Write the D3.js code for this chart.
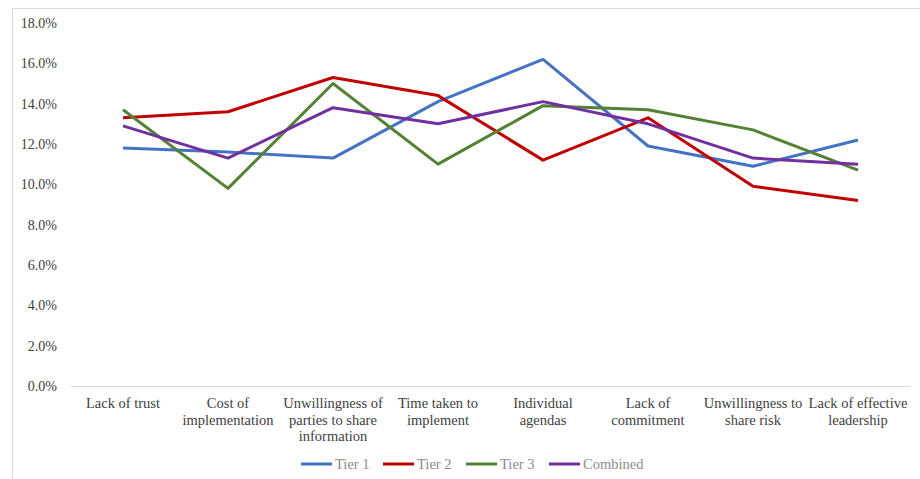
<!DOCTYPE html>
<html>
<head>
<meta charset="utf-8">
<script src="https://cdn.jsdelivr.net/npm/d3@7"></script>
<style>
  body { margin: 0; background: #fff; overflow: hidden; }
  text { font-family: "Palatino Linotype", "Book Antiqua", "Liberation Serif", serif; }
</style>
</head>
<body>
<div id="chart"></div>
<script>
var categories = [
  ["Lack of trust"],
  ["Cost of", "implementation"],
  ["Unwillingness of", "parties to share", "information"],
  ["Time taken to", "implement"],
  ["Individual", "agendas"],
  ["Lack of", "commitment"],
  ["Unwillingness to", "share risk"],
  ["Lack of effective", "leadership"]
];
var seriesNames = ["Tier 1", "Tier 2", "Tier 3", "Combined"];
var seriesColors = ["#4472C4", "#C00000", "#548235", "#7030A0"];
var tier1 = [11.8, 11.6, 11.3, 14.1, 16.2, 11.9, 10.9, 12.2];
var tier2 = [13.3, 13.6, 15.3, 14.4, 11.2, 13.3, 9.9, 9.2];
var tier3 = [13.7, 9.8, 15.0, 11.0, 13.9, 13.7, 12.7, 10.7];
var combined = [12.9, 11.3, 13.8, 13.0, 14.1, 13.0, 11.3, 11.0];
var yTicks = [0, 2, 4, 6, 8, 10, 12, 14, 16, 18];

var allSeries = [tier1, tier2, tier3, combined];

var W = 920, H = 479;
var svg = d3.select("#chart").append("svg").attr("width", W).attr("height", H);

// outer chart border (right and bottom edges fall outside the picture)
svg.append("rect")
  .attr("x", 12.5).attr("y", 8.5)
  .attr("width", 950).attr("height", 500)
  .attr("fill", "none").attr("stroke", "#d9d9d9");

var plotLeft = 70.5, plotRight = 910.5, plotTop = 23, plotBottom = 386;

var x = d3.scaleBand()
  .domain(d3.range(categories.length))
  .range([plotLeft, plotRight]);
var y = d3.scaleLinear()
  .domain([0, 18])
  .range([plotBottom, plotTop]);

// y labels
svg.append("g").selectAll("text")
  .data(yTicks).enter().append("text")
  .attr("x", 57)
  .attr("y", function(d){ return y(d); })
  .attr("dy", "0.35em")
  .attr("text-anchor", "end")
  .attr("font-size", 14)
  .attr("fill", "#404040")
  .text(function(d){ return d.toFixed(1) + "%"; });

// x axis line
svg.append("line")
  .attr("x1", plotLeft).attr("x2", plotRight)
  .attr("y1", plotBottom + 0.5).attr("y2", plotBottom + 0.5)
  .attr("stroke", "#d9d9d9");

// category labels
var cat = svg.append("g").selectAll("text")
  .data(categories).enter().append("text")
  .attr("text-anchor", "middle")
  .attr("font-size", 14.5)
  .attr("fill", "#404040");
cat.selectAll("tspan")
  .data(function(d, i){ return d.map(function(t){ return {t: t, i: i}; }); })
  .enter().append("tspan")
  .attr("x", function(d){ return x(d.i) + x.bandwidth() / 2; })
  .attr("y", function(d, j){ return 408 + j * 16.5; })
  .text(function(d){ return d.t; });

// lines
var line = d3.line()
  .x(function(d, i){ return x(i) + x.bandwidth() / 2; })
  .y(function(d){ return y(d); });

svg.append("g").selectAll("path")
  .data(allSeries).enter().append("path")
  .attr("d", line)
  .attr("fill", "none")
  .attr("stroke", function(d, i){ return seriesColors[i]; })
  .attr("stroke-width", 3)
  .attr("stroke-linejoin", "round");

// legend
var legendX = [301, 383, 466, 549];
var lg = svg.append("g").selectAll("g")
  .data(seriesNames).enter().append("g")
  .attr("transform", function(d, i){ return "translate(" + legendX[i] + ",464)"; });
lg.append("line")
  .attr("x1", 0).attr("x2", 31)
  .attr("stroke", function(d, i){ return seriesColors[i]; })
  .attr("stroke-width", 3);
lg.append("text")
  .attr("x", 34).attr("dy", "0.35em")
  .attr("font-size", 14.5)
  .attr("fill", "#8c8c8c")
  .text(function(d){ return d; });
</script>
</body>
</html>
